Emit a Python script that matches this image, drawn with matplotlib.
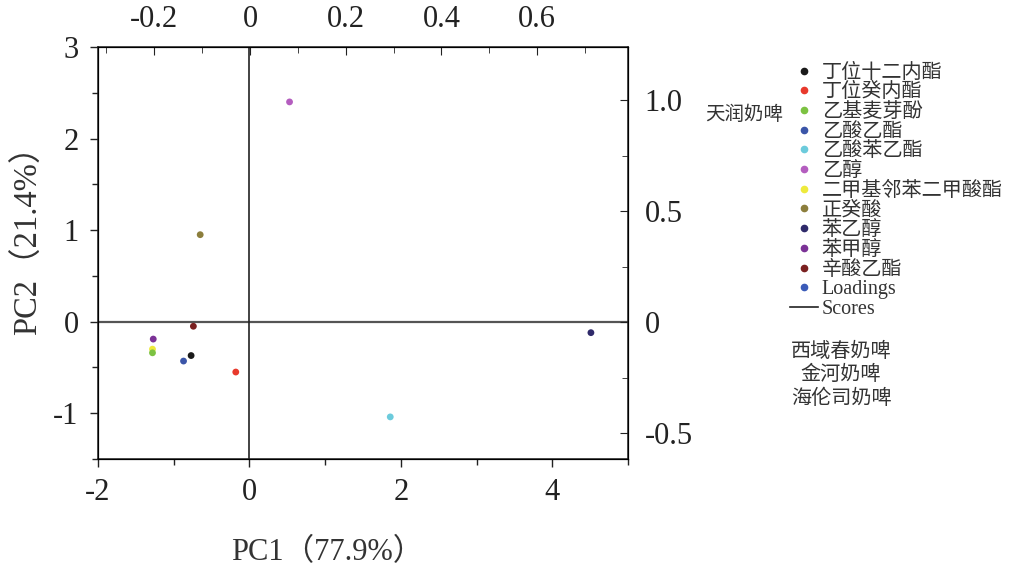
import numpy as np
import matplotlib
matplotlib.use('Agg')
import matplotlib.pyplot as plt
from matplotlib.lines import Line2D
from matplotlib.ticker import MultipleLocator, FixedLocator

plt.rcParams['font.family'] = ['Liberation Serif', 'Noto Sans CJK SC', 'DejaVu Sans']
plt.rcParams['axes.unicode_minus'] = False

# compound scores (PC1, PC2)
compounds = ['丁位十二内酯', '丁位癸内酯', '乙基麦芽酚', '乙酸乙酯', '乙酸苯乙酯', '乙醇',
             '二甲基邻苯二甲酸酯', '正癸酸', '苯乙醇', '苯甲醇', '辛酸乙酯']
pc1 = [-0.77, -0.18, -1.28, -0.87, 1.86, 0.53, -1.28, -0.65, 4.51, -1.27, -0.74]
pc2 = [-0.37, -0.55, -0.34, -0.43, -1.04, 2.40, -0.30, 0.95, -0.12, -0.19, -0.05]
colors = ['#1a1a1a', '#e8392c', '#7cc242', '#3b55a8', '#6ccbdc', '#b45dbf',
          '#eeea3c', '#8c7e3c', '#2f2a6a', '#7b3296', '#7a2020']
loadings_color = '#3b5bb8'

# sample labels
sample_top = '天润奶啤'
samples_bottom = ['西域春奶啤', '金河奶啤', '海伦司奶啤']

x_label = 'PC1（77.9%）'
y_label = 'PC2（21.4%）'

fig = plt.figure(figsize=(10.10, 5.75), dpi=100)
ax = fig.add_axes([0.097, 0.2017, 0.5248, 0.7166])

ax.axhline(0, color='#555555', lw=1.6, zorder=1)
ax.axvline(0, color='#222222', lw=1.2, zorder=1)
order = [0, 1, 6, 2, 3, 4, 5, 7, 8, 9, 10]
for i in order:
    ax.scatter(pc1[i], pc2[i], s=24, color=colors[i], zorder=3, edgecolors='none')

ax.set_xlim(-2, 5)
ax.set_ylim(-1.5, 3)
ax.xaxis.set_major_locator(FixedLocator([-2, 0, 2, 4]))
ax.xaxis.set_minor_locator(MultipleLocator(1))
ax.yaxis.set_major_locator(FixedLocator([-1, 0, 1, 2, 3]))
ax.yaxis.set_minor_locator(MultipleLocator(0.5))
ax.tick_params(which='both', direction='out', labelsize=22, width=1, color='#222222',
               labelcolor='#222222')
ax.tick_params(which='major', length=6)
ax.tick_params(which='minor', length=4)
ax.tick_params(axis='x', pad=8)
ax.tick_params(axis='y', pad=8)
for s in ax.spines.values():
    s.set_linewidth(1.1)
    s.set_color('#222222')
ax.set_xlabel(x_label, fontsize=22, va='center', color='#333333')
ax.xaxis.set_label_coords(0.433, -0.228)
ax.set_ylabel(y_label, fontsize=23.5, va='center', color='#333333')
ax.yaxis.set_label_coords(-0.132, 0.55)

# top axis
axt = ax.twiny()
axt.set_xlim(-0.3177, 0.790)
axt.xaxis.set_major_locator(FixedLocator([-0.2, 0, 0.2, 0.4, 0.6]))
axt.xaxis.set_minor_locator(MultipleLocator(0.1))
axt.set_xticklabels(['-0.2', '0', '0.2', '0.4', '0.6'])
axt.tick_params(which='both', direction='in', labelsize=22, pad=9, color='#222222',
                labelcolor='#222222')
axt.tick_params(which='major', length=6)
axt.tick_params(which='minor', length=4)

# right axis
axr = ax.twinx()
axr.set_ylim(-0.617, 1.239)
axr.yaxis.set_major_locator(FixedLocator([-0.5, 0, 0.5, 1.0]))
axr.yaxis.set_minor_locator(MultipleLocator(0.25))
axr.set_yticklabels(['-0.5', '0', '0.5', '1.0'])
axr.tick_params(which='both', direction='in', labelsize=22, pad=12, color='#222222',
                labelcolor='#222222')
axr.tick_params(which='major', length=6)
axr.tick_params(which='minor', length=4)

# legend
handles = [Line2D([], [], ls='none', marker='o', ms=4.5, color=c) for c in colors]
handles.append(Line2D([], [], ls='none', marker='o', ms=4.5, color=loadings_color))
handles.append(Line2D([], [], color='#222222', lw=1.2))
labels = compounds + ['Loadings', 'Scores']
leg = fig.legend(handles, labels, loc='upper left', bbox_to_anchor=(0.782, 0.8896),
                 frameon=False, fontsize=14.5, labelspacing=0.03, handlelength=1.39,
                 handletextpad=0.2, borderaxespad=0, borderpad=0)
for t in leg.get_texts():
    t.set_color('#333333')

fig.text(744 / 1010, 1 - 115 / 575, sample_top, ha='center', va='center', fontsize=14,
         color='#333333')
for i, s in enumerate(samples_bottom):
    fig.text(841 / 1010, 1 - (352 + 23.5 * i) / 575, s, ha='center', va='center',
             fontsize=14.5, color='#333333')

fig.savefig('out.png', dpi=100)
